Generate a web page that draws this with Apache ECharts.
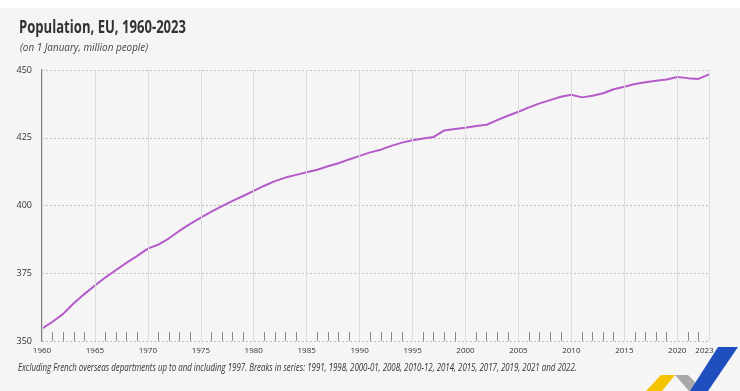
<!DOCTYPE html>
<html><head><meta charset="utf-8">
<script src="https://cdn.jsdelivr.net/npm/echarts@6/dist/echarts.min.js"></script>
<style>html,body{margin:0;padding:0;background:#f5f5f5}#c{width:740px;height:391px}</style>
</head><body><div id="c"></div>
<script>
const years = [];
for (let y = 1960; y <= 2023; y++) years.push(y);
const population = [
354.6, 357.1, 360.0, 363.9, 367.3, 370.5, 373.5, 376.2, 378.9, 381.4,
384.1, 385.6, 387.9, 390.7, 393.2, 395.5, 397.7, 399.8, 401.7, 403.5,
405.4, 407.3, 409.0, 410.3, 411.3, 412.3, 413.2, 414.5, 415.6, 417.0,
418.3, 419.6, 420.6, 422.0, 423.2, 424.1, 424.7, 425.3, 427.7, 428.2,
428.7, 429.3, 429.8, 431.5, 433.1, 434.6, 436.2, 437.7, 438.9, 440.1,
440.9, 439.9, 440.5, 441.4, 442.9, 443.8, 444.8, 445.5, 446.0, 446.5,
447.4, 447.0, 446.7, 448.4];
const yTicks = [350, 375, 400, 425, 450];
const title = 'Population, EU, 1960-2023';
const subtitle = '(on 1 January, million people)';
const footnote = 'Excluding French overseas departments up to and including 1997. Breaks in series: 1991, 1998, 2000-01, 2008, 2010-12, 2014, 2015, 2017, 2019, 2021 and 2022.';

const FONT = '"Open Sans", "Noto Sans", sans-serif';
const chart = echarts.init(document.getElementById('c'));
chart.setOption({
  backgroundColor: '#f5f5f5',
  animation: false,
  grid: {left: 42, right: 31, top: 70, bottom: 50, containLabel: false},
  xAxis: [
    {type: 'value', min: 1960, max: 2023, interval: 5, z: 10,
     axisLine: {show: false}, axisTick: {show: false},
     axisLabel: {fontFamily: FONT, fontSize: 8, color: '#333', margin: 6, showMaxLabel: true,
       formatter: function (v) { return v === 2023 ? '{last|' + v + '}' : String(v); },
       rich: {last: {fontFamily: FONT, fontSize: 8, color: '#333', padding: [0, 9, 0, 0]}}},
     splitLine: {show: true, lineStyle: {color: '#dcdcdc', width: 1}}},
    {type: 'category', data: years, boundaryGap: false, position: 'bottom',
     axisLine: {show: false}, axisLabel: {show: false}, splitLine: {show: false},
     axisTick: {show: true, inside: true, length: 9, lineStyle: {color: '#8a8a8a', width: 1},
       interval: function (i) { return years[i] % 5 !== 0; }}}
  ],
  yAxis: {type: 'value', min: yTicks[0], max: yTicks[yTicks.length - 1], interval: 25,
    axisLine: {show: true, lineStyle: {color: '#555', width: 1.5}},
    axisTick: {show: false},
    axisLabel: {fontFamily: FONT, fontSize: 9, color: '#333', margin: 10},
    splitLine: {show: true, lineStyle: {color: '#bdbdbd', type: [2, 2], width: 1}}},
  series: [{type: 'line', xAxisIndex: 0,
    data: years.map((y, i) => [y, population[i]]),
    symbol: 'none', lineStyle: {color: '#b45bc9', width: 2}, itemStyle: {color: '#b45bc9'}}],
  graphic: {
    elements: [
      {type: 'rect', z: 1, shape: {x: 0, y: 0, width: 740, height: 8}, style: {fill: '#ffffff'}, silent: true},
      {type: 'text', x: 19, y: 20, scaleX: 0.77, style: {text: title, font: 'bold 17px ' + FONT, fill: '#333', textVerticalAlign: 'top'}},
      {type: 'text', x: 20, y: 42, scaleX: 0.9, style: {text: subtitle, font: 'italic 11px ' + FONT, fill: '#444', textVerticalAlign: 'top'}},
      {type: 'text', x: 18, y: 363, scaleX: 0.79, style: {text: footnote, font: 'italic 10px ' + FONT, fill: '#333', textVerticalAlign: 'top'}},
      {type: 'polygon', z: 1, shape: {points: [[661, 375], [675, 375], [662, 391], [646, 391]]}, style: {fill: '#f5c400'}},
      {type: 'polygon', z: 1, shape: {points: [[675, 375], [688, 375], [704, 391], [689, 391]]}, style: {fill: '#a8a8a8'}},
      {type: 'polygon', z: 1, shape: {points: [[718, 347], [738, 347], [708, 391], [690, 391]]}, style: {fill: '#1f4fbf'}}
    ]
  }
});
</script></body></html>
